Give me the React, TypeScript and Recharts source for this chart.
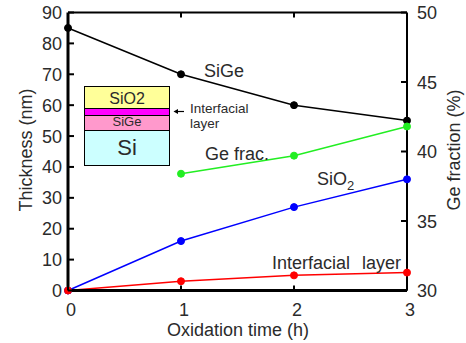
import React from 'react';
import { ComposedChart, Line, XAxis, YAxis } from 'recharts';

// oxidation time (h)
const times = [0, 1, 2, 3];
// thickness (nm), left axis
const sigeThickness = [85, 70, 60, 55];
const sio2Thickness = [0, 16, 27, 36];
const interfacialThickness = [0, 3, 4.9, 5.8];
// Ge fraction (%), right axis
const geFraction = [null, 38.4, 39.7, 41.8];

const thicknessTicks = [0, 10, 20, 30, 40, 50, 60, 70, 80, 90];
const fractionTicks = [30, 35, 40, 45, 50];
const timeTicks = [0, 1, 2, 3];

const data = times.map((t, i) => ({
  t,
  sige: sigeThickness[i],
  sio2: sio2Thickness[i],
  il: interfacialThickness[i],
  ge: geFraction[i],
}));

const FONT = '"Liberation Sans", Arial, Helvetica, sans-serif';
const TXT = '#2b2b2b';
const FS = 18;

const LeftTick = (props: any) => {
  const { x, y, payload } = props;
  return (
    <g>
      <line x1={x} x2={x + 6} y1={y} y2={y} stroke="#000" strokeWidth={2} />
      <text x={x - 6} y={y} dy={6.5} textAnchor="end" fontSize={FS} fill={TXT} fontFamily={FONT}>
        {payload.value}
      </text>
    </g>
  );
};

const RightTick = (props: any) => {
  const { x, y, payload } = props;
  return (
    <g>
      <line x1={x - 6} x2={x} y1={y} y2={y} stroke="#000" strokeWidth={2} />
      <text x={x + 10} y={y} dy={6.5} textAnchor="start" fontSize={FS} fill={TXT} fontFamily={FONT}>
        {payload.value}
      </text>
    </g>
  );
};

const BottomTick = (props: any) => {
  const { x, y, payload } = props;
  return (
    <g>
      <line x1={x} x2={x} y1={y} y2={y - 5} stroke="#000" strokeWidth={2} />
      <text x={x + 3} y={y + 25} textAnchor="middle" fontSize={FS} fill={TXT} fontFamily={FONT}>
        {payload.value}
      </text>
    </g>
  );
};

const TopTick = (props: any) => {
  const { x, y } = props;
  return <line x1={x} x2={x} y1={y} y2={y + 5} stroke="#000" strokeWidth={2} />;
};

const Overlay = () => (
  <svg
    width={466}
    height={343}
    style={{ position: 'absolute', left: 0, top: 0, pointerEvents: 'none' }}
    fontFamily={FONT}
  >
    {/* axis titles */}
    <text transform="translate(25,150) rotate(-90)" dy={6.5} textAnchor="middle" fontSize={FS} fill={TXT}>
      Thickness (nm)
    </text>
    <text transform="translate(453,150) rotate(-90)" dy={6.5} textAnchor="middle" fontSize={FS} fill={TXT}>
      Ge fraction (%)
    </text>
    <text x={238} y={336} textAnchor="middle" fontSize={FS} fill={TXT}>
      Oxidation time (h)
    </text>

    {/* series labels */}
    <text x={204} y={76.5} fontSize={FS} fill={TXT}>SiGe</text>
    <text x={205} y={159.5} fontSize={FS} fill={TXT}>Ge frac.</text>
    <text x={317} y={184.5} fontSize={FS} fill={TXT}>
      SiO<tspan fontSize={13} dy={5}>2</tspan>
    </text>
    <text x={272} y={269} fontSize={FS} fill={TXT}>Interfacial</text>
    <text x={362} y={269} fontSize={FS} fill={TXT}>layer</text>

    {/* layer stack inset */}
    <rect x={84.5} y={86.5} width={85} height={22} fill="#ffff99" stroke="#000" strokeWidth={1} />
    <rect x={84.5} y={108.5} width={85} height={7} fill="#ff00ff" stroke="#000" strokeWidth={1} />
    <rect x={84.5} y={115.5} width={85} height={15} fill="#ff99cc" stroke="#000" strokeWidth={1} />
    <rect x={84.5} y={130.5} width={85} height={35} fill="#ccffff" stroke="#000" strokeWidth={1} />
    <text x={127} y={104} textAnchor="middle" fontSize={16} fill={TXT}>SiO2</text>
    <text x={127} y={126} textAnchor="middle" fontSize={13} fill={TXT}>SiGe</text>
    <text x={127} y={155} textAnchor="middle" fontSize={22} fill={TXT}>Si</text>
    <line x1={177} x2={184} y1={111.5} y2={111.5} stroke="#000" strokeWidth={1.2} />
    <polygon points="173.5,111.5 178,109 178,114" fill="#000" />
    <text x={190} y={113} fontSize={13.5} fill={TXT}>Interfacial</text>
    <text x={190} y={128} fontSize={13.5} fill={TXT}>layer</text>
  </svg>
);

export default function App() {
  return (
    <div style={{ position: 'absolute', left: 0, top: 0, width: 466, height: 343, background: '#fff' }}>
      <ComposedChart width={466} height={343} data={data} margin={{ top: 2.5, right: 0, bottom: 0, left: 8 }}>
        <XAxis
          xAxisId="bottom"
          dataKey="t"
          type="number"
          domain={[0, 3]}
          ticks={timeTicks}
          height={52.5}
          tickSize={0}
          tickMargin={0}
          tickLine={false}
          axisLine={{ stroke: '#000', strokeWidth: 3 }}
          tick={<BottomTick />}
          interval={0}
        />
        <XAxis
          xAxisId="top"
          orientation="top"
          dataKey="t"
          type="number"
          domain={[0, 3]}
          ticks={[1, 2]}
          height={10}
          tickSize={0}
          tickMargin={0}
          tickLine={false}
          axisLine={{ stroke: '#000', strokeWidth: 2 }}
          tick={<TopTick />}
          interval={0}
        />
        <YAxis
          yAxisId="left"
          domain={[0, 90]}
          ticks={thicknessTicks}
          width={60}
          tickSize={0}
          tickMargin={0}
          tickLine={false}
          axisLine={{ stroke: '#000', strokeWidth: 3 }}
          tick={<LeftTick />}
          interval={0}
        />
        <YAxis
          yAxisId="right"
          orientation="right"
          domain={[30, 50]}
          ticks={fractionTicks}
          width={59}
          tickSize={0}
          tickMargin={0}
          tickLine={false}
          axisLine={{ stroke: '#000', strokeWidth: 2 }}
          tick={<RightTick />}
          interval={0}
        />
        <Line
          xAxisId="bottom"
          yAxisId="left"
          dataKey="sige"
          type="linear"
          stroke="#000000"
          strokeWidth={1.5}
          dot={{ r: 3.5, fill: '#000000', stroke: '#000000', strokeWidth: 1 }}
          isAnimationActive={false}
        />
        <Line
          xAxisId="bottom"
          yAxisId="right"
          dataKey="ge"
          type="linear"
          stroke="#22ee22"
          strokeWidth={1.5}
          dot={{ r: 3.5, fill: '#22ee22', stroke: '#22ee22', strokeWidth: 1 }}
          connectNulls
          isAnimationActive={false}
        />
        <Line
          xAxisId="bottom"
          yAxisId="left"
          dataKey="sio2"
          type="linear"
          stroke="#0000ff"
          strokeWidth={1.5}
          dot={{ r: 3.5, fill: '#0000ff', stroke: '#0000ff', strokeWidth: 1 }}
          isAnimationActive={false}
        />
        <Line
          xAxisId="bottom"
          yAxisId="left"
          dataKey="il"
          type="linear"
          stroke="#ff0000"
          strokeWidth={1.5}
          dot={{ r: 3.5, fill: '#ff0000', stroke: '#ff0000', strokeWidth: 1 }}
          isAnimationActive={false}
        />
      </ComposedChart>
      <Overlay />
    </div>
  );
}
